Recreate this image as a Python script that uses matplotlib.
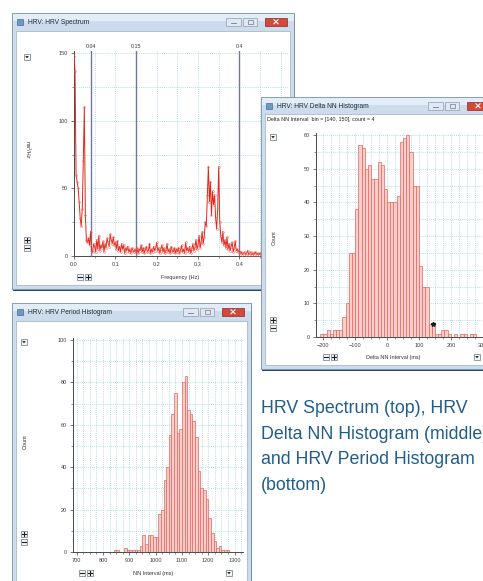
import matplotlib
matplotlib.use('Agg')
import matplotlib.pyplot as plt
from matplotlib.patches import Rectangle, Polygon
from matplotlib.ticker import MultipleLocator, FormatStrFormatter
import numpy as np

W, H = 483, 581

# ---- HRV spectrum (power per 0.0025 Hz step, starting at 0 Hz)
spec_step = 0.0025
spec_power = [
    148, 137, 60, 55, 50, 40, 28, 22, 35, 70, 110, 30, 12, 10, 13, 8, 18, 4, 3, 9,
    7, 3, 12, 5, 15, 4, 8, 6, 11, 3, 9, 6, 13, 10, 7, 16, 12, 9, 14, 8,
    10, 5, 11, 4, 7, 3, 9, 5, 8, 2, 6, 4, 7, 3, 5, 2, 6, 4, 3, 5,
    3, 6, 2, 5, 4, 8, 3, 6, 2, 5, 7, 3, 4, 9, 2, 5, 3, 7, 4, 6,
    10, 4, 6, 2, 5, 8, 3, 6, 2, 4, 9, 3, 5, 2, 7, 4, 3, 6, 2, 5,
    3, 6, 2, 4, 8, 3, 5, 2, 10, 4, 6, 3, 7, 2, 5, 9, 4, 6, 12, 5,
    8, 15, 6, 10, 18, 9, 14, 25, 22, 45, 66, 40, 55, 30, 48, 38, 45, 28, 20, 35,
    66, 25, 15, 10, 18, 8, 12, 6, 14, 5, 9, 4, 7, 10, 3, 6, 11, 4, 5, 3,
    4, 2, 3, 1, 2, 3, 1, 2, 4, 1, 2, 3, 1, 2, 1, 3, 2, 1, 2, 1,
    2, 1, 3, 1, 2, 1, 2, 3, 1, 2, 1, 2, 1, 3, 1, 2, 1, 2, 1, 2,
    1,
]
spec_bands = [0.04, 0.15, 0.4]
spec_band_labels = ['0.04', '0.15', '0.4']

# ---- Delta NN histogram (10 ms bins, first bin starts at -210 ms)
dnn_start = -210
dnn_bin = 10
dnn_counts = [1, 1, 2, 1, 2, 2, 2, 6, 10, 25, 25, 38, 57, 56, 50, 51, 47, 47, 52, 51,
              44, 40, 40, 40, 42, 58, 59, 60, 55, 45, 45, 21, 15, 15, 4, 4, 1, 1, 2, 2,
              1, 0, 1, 0, 1, 1, 0, 1, 1]
dnn_cursor = 140

# ---- NN period histogram (10 ms bins, first bin starts at 840 ms)
nn_start = 840
nn_bin = 10
nn_counts = [1, 1, 0, 0, 2, 1, 1, 1, 1, 1, 3, 8, 4, 8, 8, 7, 7, 18, 20, 34,
             40, 55, 65, 75, 56, 58, 80, 83, 67, 65, 62, 54, 38, 30, 29, 25, 16, 9, 5, 2,
             3, 1, 1, 1]

caption = ['HRV Spectrum (top), HRV', 'Delta NN Histogram (middle),',
           'and HRV Period Histogram', '(bottom)']

UI = 'Liberation Sans'
plt.rcParams['font.family'] = ['Liberation Sans', 'DejaVu Sans']

fig = plt.figure(figsize=(W / 100, H / 100), dpi=100)
fig.patch.set_facecolor('white')


def frac(x0, y0, x1, y1):
    return [x0 / W, 1 - y1 / H, (x1 - x0) / W, (y1 - y0) / H]


def chrome(z):
    a = fig.add_axes([0, 0, 1, 1], zorder=z)
    a.set_xlim(0, W)
    a.set_ylim(H, 0)
    a.axis('off')
    return a


def box(a, cx, cy, kind, s=6.5):
    a.add_patch(Rectangle((cx - s / 2, cy - s / 2), s, s, fc='#f4f6f8', ec='#66778a', lw=0.5))
    if kind == 'down':
        a.add_patch(Polygon([[cx - 1.8, cy - 0.9], [cx + 1.8, cy - 0.9], [cx, cy + 1.3]],
                            fc='#1e1e1e', ec='none'))
    else:
        a.plot([cx - 1.8, cx + 1.8], [cy, cy], color='#1e1e1e', lw=0.8)
        if kind == 'plus':
            a.plot([cx, cx], [cy - 1.8, cy + 1.8], color='#1e1e1e', lw=0.8)


def window(a, x0, y0, x1, y1, title, client_top):
    a.add_patch(Rectangle((x0 + 1, y0 + 1.5), x1 - x0, y1 - y0, fc='#2b4f69', ec='none'))
    a.add_patch(Rectangle((x0, y0), x1 - x0, y1 - y0, fc='#cddcec', ec='#7b91a9', lw=0.6))
    a.add_patch(Rectangle((x0 + 0.5, y0 + 0.5), x1 - x0 - 1, 7, fc='#e3edf7', ec='none'))
    a.add_patch(Rectangle((x0 + 4, client_top), x1 - x0 - 8, y1 - client_top - 4,
                          fc='white', ec='#9db0c4', lw=0.5))
    # icon + title
    a.add_patch(Rectangle((x0 + 5, y0 + 5.5), 6, 6.5, fc='#6f97c2', ec='#2f5a86', lw=0.4))
    a.text(x0 + 16, y0 + 9, title, fontsize=4.8, color='#1d2a38', va='center', family=UI)
    # min / max / close buttons
    by = y0 + 4.5
    for bx, bw, fc, ec in [(x1 - 68, 15, '#e1e8f0', '#8c9cb0'), (x1 - 51, 14, '#e1e8f0', '#8c9cb0'),
                           (x1 - 29, 22, '#d2493c', '#8c2a22')]:
        a.add_patch(Rectangle((bx, by), bw, 8.5, fc=fc, ec=ec, lw=0.5))
    a.plot([x1 - 63, x1 - 58], [by + 5.5, by + 5.5], color='#6b7b8e', lw=0.6)
    a.add_patch(Rectangle((x1 - 46.5, by + 2.2), 5, 4, fc='none', ec='#6b7b8e', lw=0.5))
    a.plot([x1 - 20, x1 - 16], [by + 2.3, by + 6.2], color='white', lw=0.8)
    a.plot([x1 - 20, x1 - 16], [by + 6.2, by + 2.3], color='white', lw=0.8)


def style(ax, xmaj, xmin, ymaj, ymin):
    ax.set_facecolor('white')
    ax.xaxis.set_major_locator(MultipleLocator(xmaj))
    ax.xaxis.set_minor_locator(MultipleLocator(xmin))
    ax.yaxis.set_major_locator(MultipleLocator(ymaj))
    ax.yaxis.set_minor_locator(MultipleLocator(ymin))
    ax.grid(which='both', color='#9fd2e4', ls=(0, (1, 1.5)), lw=0.6)
    ax.set_axisbelow(True)
    for s in ['top', 'right']:
        ax.spines[s].set_visible(False)
    for s in ['left', 'bottom']:
        ax.spines[s].set_color('#4a4a4a')
        ax.spines[s].set_linewidth(0.7)
    ax.tick_params(which='major', length=2.5, width=0.5, labelsize=4, colors='#404040', pad=2)
    ax.tick_params(which='minor', length=1.5, width=0.4, colors='#404040')


# ---------------- window 1 + 3 chrome (bottom layer)
cA = chrome(0)
window(cA, 12, 13, 294, 289, 'HRV: HRV Spectrum', 31)
box(cA, 27, 57, 'down')
box(cA, 27, 240, 'plus')
box(cA, 27, 248, 'minus')
box(cA, 80, 277, 'minus')
box(cA, 88, 277, 'plus')
cA.text(180, 277, 'Frequency (Hz)', fontsize=4, ha='center', va='center', color='#333')
cA.text(27, 150, 'ms²/Hz', fontsize=4, ha='center', va='center', rotation=-90, color='#333')

window(cA, 12, 303, 251, 595, 'HRV: HRV Period Histogram', 321)
box(cA, 24, 342, 'down')
box(cA, 24, 534, 'plus')
box(cA, 24, 542, 'minus')
box(cA, 82, 573, 'minus')
box(cA, 90, 573, 'plus')
box(cA, 229, 573, 'down')
cA.text(153, 573, 'NN Interval (ms)', fontsize=4, ha='center', va='center', color='#333')
cA.text(25, 442, 'Count', fontsize=4, ha='center', va='center', rotation=90, color='#333')

# ---------------- spectrum plot
freqs = np.arange(len(spec_power)) * spec_step
ax1 = fig.add_axes(frac(74, 51, 289, 256), zorder=1)
style(ax1, 0.1, 0.05, 50, 25)
for f, lab in zip(spec_bands, spec_band_labels):
    ax1.axvline(f, color='#7275a9', lw=1.0, zorder=2)
    ax1.text(f, 1.012, lab, transform=ax1.get_xaxis_transform(), fontsize=3.8,
             ha='center', va='bottom', color='#333')
ax1.plot(freqs, spec_power, color='#e2261b', lw=0.7, marker='o', ms=1.4, mfc='none',
         mec='#f0675a', mew=0.35, zorder=3)
ax1.set_xlim(0, 0.52)
ax1.set_ylim(0, 151.5)
ax1.xaxis.set_major_formatter(FormatStrFormatter('%.1f'))

# ---------------- window 2 chrome (over the spectrum)
cB = chrome(2)
window(cB, 261, 97, 496, 369, 'HRV: HRV Delta NN Histogram', 114)
cur_i = (dnn_cursor - dnn_start) // dnn_bin
cB.text(267, 120, 'Delta NN Interval  bin = [%d, %d], count = %d'
        % (dnn_cursor, dnn_cursor + dnn_bin, dnn_counts[cur_i]),
        fontsize=3.9, va='center', color='#222')
box(cB, 273, 137, 'down')
box(cB, 273, 320, 'plus')
box(cB, 273, 328, 'minus')
box(cB, 326, 357, 'minus')
box(cB, 334, 357, 'plus')
box(cB, 477, 357, 'down')
cB.text(393, 357, 'Delta NN Interval (ms)', fontsize=4, ha='center', va='center', color='#333')
cB.text(274, 238, 'Count', fontsize=4, ha='center', va='center', rotation=90, color='#333')

# ---------------- delta NN histogram
ax2 = fig.add_axes(frac(316, 133, 492, 337), zorder=3)
style(ax2, 100, 25, 10, 5)
edges = dnn_start + dnn_bin * np.arange(len(dnn_counts))
ax2.bar(edges, dnn_counts, width=dnn_bin, align='edge', color='#f8cdca',
        edgecolor='#e3665e', lw=0.5, zorder=2)
ax2.plot(dnn_cursor + dnn_bin / 2, dnn_counts[cur_i], marker='*', color='#1a1a1a',
         ms=3.2, zorder=4)
ax2.set_xlim(-223, 329)
ax2.set_ylim(0, 60.6)

# ---------------- period histogram
ax3 = fig.add_axes(frac(73, 338, 243, 552), zorder=1)
style(ax3, 100, 25, 20, 10)
nedges = nn_start + nn_bin * np.arange(len(nn_counts))
ax3.bar(nedges, nn_counts, width=nn_bin, align='edge', color='#f8cdca',
        edgecolor='#e3665e', lw=0.5, zorder=2)
ax3.set_xlim(686, 1332)
ax3.set_ylim(0, 100.9)

# ---------------- caption (runs off the right edge, as in the original page)
cap = chrome(4)
for i, line in enumerate(caption):
    cap.text(261, 413 + i * 25.7, line, fontsize=12.8, color='#1f5d8b',
             family='Liberation Sans', va='baseline')

fig.savefig('out.png', dpi=100, facecolor='white')
